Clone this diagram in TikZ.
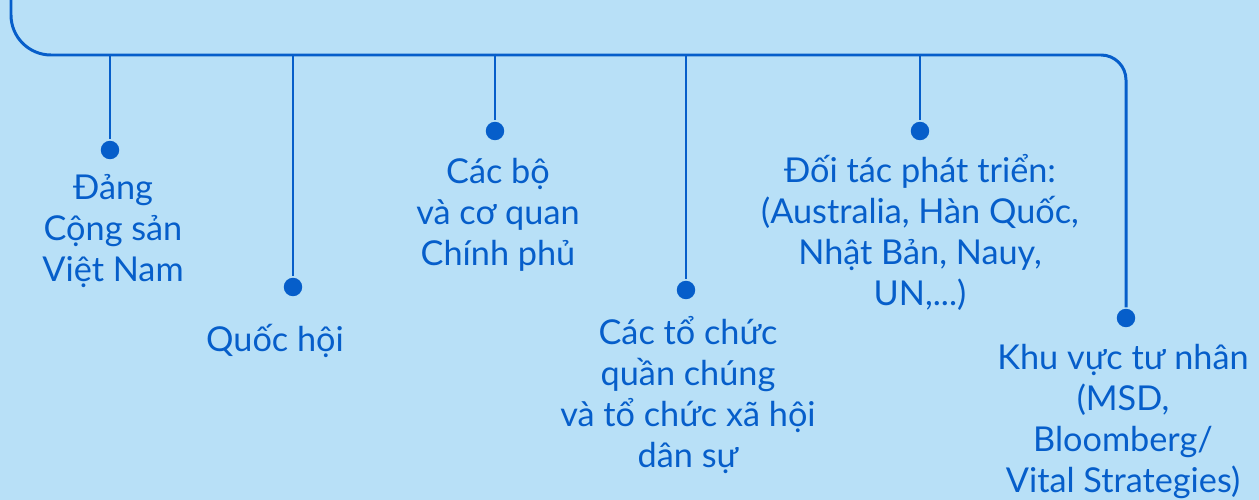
\documentclass[tikz,border=0pt]{standalone}
\usepackage{fontspec}
\setmainfont{Lato}
\usepackage{tikz}
\usetikzlibrary{positioning,calc}
\definecolor{bgblue}{RGB}{184,224,247}
\definecolor{inkblue}{RGB}{6,94,202}
\begin{document}
\begin{tikzpicture}[x=0.02cm, y=-0.02cm, line width=1.7pt, color=inkblue,
  font=\fontsize{19.5}{23.4}\selectfont,
  dot/.style={circle,fill=inkblue,inner sep=0pt,minimum size=10.5pt},
  lbl/.style={align=center,text=inkblue,anchor=north}]
  \fill[bgblue] (0,0) rectangle (1259,500);
  \useasboundingbox (0,0) rectangle (1259,500);
  % dots and bus points
  \node[dot](d1) at (110,150){};  \coordinate (j1) at (110,55);
  \node[dot](d2) at (293,287){};  \coordinate (j2) at (293,55);
  \node[dot](d3) at (495,131){};  \coordinate (j3) at (495,55);
  \node[dot](d4) at (686,290){};  \coordinate (j4) at (686,55);
  \node[dot](d5) at (920,131){};  \coordinate (j5) at (920,55);
  \node[dot](d6) at (1126,318){};
  \coordinate (top) at (11,-5);
  % labels
  \node[lbl](t1) at (113,167){Đảng\\Cộng sản\\Việt Nam};
  \node[lbl](t2) at (275,317){Quốc hội};
  \node[lbl](t3) at (498,151){Các bộ\\và cơ quan\\Chính phủ};
  \node[lbl](t4) at (688,309){Các tổ chức\\quần chúng\\và tổ chức xã hội\\dân sự};
  \node[lbl](t5) at (920,147){Đối tác phát triển:\\(Australia, Hàn Quốc,\\Nhật Bản, Nauy,\\UN,...)};
  \node[lbl](t6) at (1123,337){Khu vực tư nhân\\(MSD,\\Bloomberg/\\Vital Strategies)};
  % bus
  \draw[rounded corners=0.8cm] (top) |- (j3);
  \draw[rounded corners=0.5cm] (j3) -| (d6);
  \foreach \i in {1,...,5}\draw (j\i) -- (d\i);
\end{tikzpicture}
\end{document}
